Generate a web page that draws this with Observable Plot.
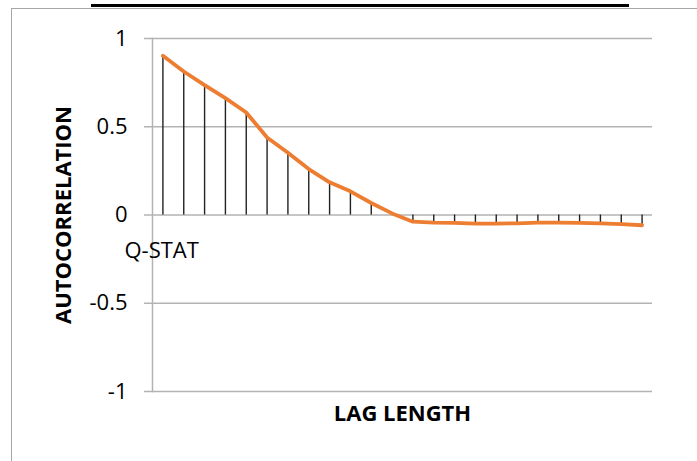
<!DOCTYPE html>
<html>
<head>
<meta charset="utf-8">
<script src="https://cdn.jsdelivr.net/npm/d3@7"></script>
<script src="https://cdn.jsdelivr.net/npm/@observablehq/plot@0.6"></script>
<style>
  html, body { margin: 0; padding: 0; background: #fff; overflow: hidden; }
  #wrap { position: relative; width: 697px; height: 461px; overflow: hidden; }
  #topline { position: absolute; left: 91px; top: 4px; width: 538px; height: 2.5px; background: #000; }
  #box { position: absolute; left: 11px; top: 8px; width: 720px; height: 480px; border: 1px solid #a6a6a6; box-sizing: border-box; }
  #chart { position: absolute; left: 0; top: 0; }
</style>
</head>
<body>
<div id="wrap">
  <div id="topline"></div>
  <div id="box"></div>
  <div id="chart"></div>
</div>
<script>
// Data
const lags = [1,2,3,4,5,6,7,8,9,10,11,12,13,14,15,16,17,18,19,20,21,22,23,24];
const acf = [0.902, 0.813, 0.736, 0.662, 0.581, 0.439, 0.353, 0.260, 0.185, 0.134, 0.068, 0.009,
             -0.038, -0.043, -0.045, -0.049, -0.049, -0.047, -0.043, -0.043, -0.045, -0.047, -0.052, -0.058];
const yTicks = [-1, -0.5, 0, 0.5, 1];
const yTickLabels = ["-1", "-0.5", "0", "0.5", "1"];
const yTitle = "AUTOCORRELATION";
const xTitle = "LAG LENGTH";
const note = "Q-STAT";

const data = lags.map((lag, i) => ({lag, acf: acf[i]}));
const font = "'Open Sans', 'Noto Sans', sans-serif";

const chart = Plot.plot({
  width: 697,
  height: 461,
  marginLeft: 152,
  marginRight: 45,
  marginTop: 38,
  marginBottom: 70,
  style: {background: "none", fontFamily: font, color: "#000"},
  x: {domain: [0.5, 24.5], axis: null},
  y: {domain: [-1, 1]},
  marks: [
    Plot.ruleY(yTicks, {stroke: "#b3b3b3", strokeWidth: 1.5, insetLeft: -8}),
    Plot.frame({anchor: "left", stroke: "#b3b3b3", strokeWidth: 1.5}),
    Plot.axisY(yTicks, {
      tickSize: 0,
      tickPadding: 25,
      fontSize: 22,
      label: null,
      tickFormat: (d) => yTickLabels[yTicks.indexOf(d)]
    }),
    Plot.ruleX(data, {x: "lag", y1: 0, y2: "acf", stroke: "#222", strokeWidth: 1.4}),
    Plot.line(data, {x: "lag", y: "acf", stroke: "#ED7D31", strokeWidth: 3.8, strokeLinecap: "round", strokeLinejoin: "round"}),
    Plot.text([yTitle], {frameAnchor: "left", textAnchor: "middle", lineAnchor: "middle", rotate: -90, dx: -89, fontSize: 22, fontWeight: "bold", fill: "#000"}),
    Plot.text([xTitle], {frameAnchor: "bottom", dy: 29, fontSize: 22, fontWeight: "bold", fill: "#000"}),
    Plot.text([note], {frameAnchor: "left", textAnchor: "start", dx: -28, dy: 36, fontSize: 22, fill: "#000"})
  ]
});
document.getElementById("chart").appendChild(chart);
</script>
</body>
</html>
